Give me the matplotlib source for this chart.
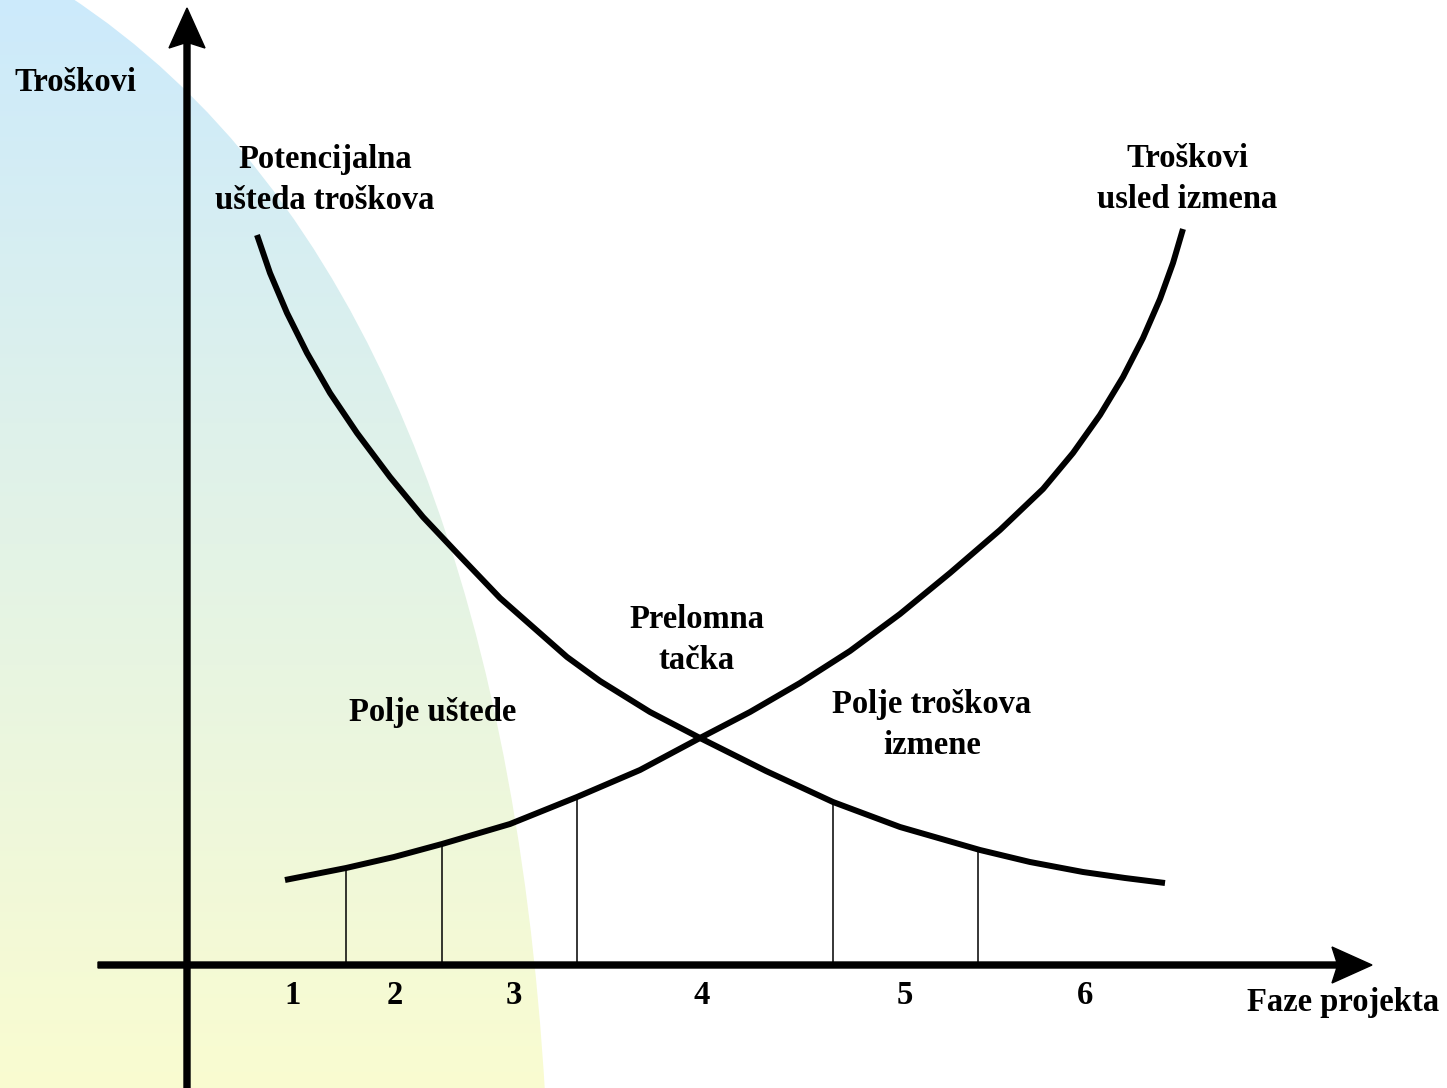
import numpy as np
import matplotlib
matplotlib.use("Agg")
import matplotlib.pyplot as plt
from matplotlib.path import Path
from matplotlib.patches import PathPatch

#units: origin where the two axes cross, 1 unit = 100 px
#curve "potencijalna usteda troskova" (falling)
save_x = [0.70, 0.83, 1.00, 1.20, 1.43, 1.70, 2.03, 2.36, 2.70, 3.13, 3.80, 4.13, 4.63, 5.13,
          5.79, 6.46, 7.13, 7.93, 8.43, 8.96, 9.38, 9.78]
save_y = [7.30, 6.92, 6.52, 6.12, 5.72, 5.32, 4.88, 4.48, 4.12, 3.67, 3.08, 2.84, 2.53, 2.27,
          1.94, 1.63, 1.38, 1.15, 1.03, 0.93, 0.87, 0.82]

#curve "troskovi usled izmena" (rising)
chg_x = [0.98, 1.59, 2.07, 2.55, 3.23, 3.90, 4.53, 5.13, 5.63, 6.13, 6.63, 7.13, 7.63, 8.13,
         8.56, 8.86, 9.13, 9.36, 9.56, 9.73, 9.86, 9.96]
chg_y = [0.85, 0.97, 1.08, 1.21, 1.41, 1.68, 1.95, 2.27, 2.53, 2.82, 3.14, 3.51, 3.92, 4.35,
         4.76, 5.12, 5.50, 5.88, 6.27, 6.66, 7.02, 7.36]

#phase borders (x) and height where they meet the curve
border_x = [1.59, 2.55, 3.90, 6.46, 7.91]
border_top = [0.97, 1.21, 1.68, 1.63, 1.16]

#phase labels
phases = ["1", "2", "3", "4", "5", "6"]
phase_x = [1.06, 2.08, 3.27, 5.15, 7.18, 8.98]

xmin, xmax = -1.87, 12.60
ymin, ymax = -1.23, 9.65

fig = plt.figure(figsize=(14.47, 10.88), dpi=100)
ax = fig.add_axes([0, 0, 1, 1])
ax.set_xlim(xmin, xmax)
ax.set_ylim(ymin, ymax)
ax.axis("off")

#background gradient (blue at top -> yellow at bottom), clipped by a curved edge
top = np.array([204, 234, 252]) / 255.0
bot = np.array([250, 252, 208]) / 255.0
t = np.linspace(0, 1, 256)[:, None]
grad = (top * (1 - t) + bot * t)[:, None, :]
img = ax.imshow(grad, extent=(xmin - 0.1, 4.0, ymin - 0.1, ymax + 0.1), aspect="auto", zorder=0)
verts = [(-1.20, ymax + 0.05), (1.78, 7.76), (3.28, 3.77), (3.58, ymin - 0.05),
         (xmin - 0.1, ymin - 0.1), (xmin - 0.1, ymax + 0.1), (-1.20, ymax + 0.05)]
codes = [Path.MOVETO, Path.CURVE4, Path.CURVE4, Path.CURVE4, Path.LINETO, Path.LINETO, Path.CLOSEPOLY]
clip = PathPatch(Path(verts, codes), facecolor="none", edgecolor="none", transform=ax.transData)
ax.add_patch(clip)
img.set_clip_path(clip)

#axes with arrows
ax.arrow(0, ymin, 0, 9.57 - ymin, width=0.06, head_width=0.36, head_length=0.40,
         length_includes_head=True, overhang=0.12, color="black", zorder=3)
ax.arrow(-0.89, 0, 11.85 + 0.89, 0, width=0.06, head_width=0.36, head_length=0.40,
         length_includes_head=True, overhang=0.12, color="black", zorder=3)

#curves
ax.plot(save_x, save_y, color="black", lw=4.3, solid_capstyle="butt", solid_joinstyle="round", zorder=4)
ax.plot(chg_x, chg_y, color="black", lw=4.3, solid_capstyle="butt", solid_joinstyle="round", zorder=4)

#phase borders
ax.vlines(border_x, 0, border_top, color="black", lw=1.1, zorder=2)

font = dict(family="Liberation Serif", fontweight="bold", fontsize=23.5, color="black")

for lab, x in zip(phases, phase_x):
    ax.text(x, -0.30, lab, ha="center", va="center", **font)

ax.text(-1.73, 8.83, "Troškovi", ha="left", va="center", **font)
ax.text(10.60, -0.37, "Faze projekta", ha="left", va="center", **font)
ax.text(1.38, 7.85, "Potencijalna\nušteda troškova", ha="center", va="center", linespacing=1.38, **font)
ax.text(10.00, 7.86, "Troškovi\nusled izmena", ha="center", va="center", linespacing=1.38, **font)
ax.text(5.10, 3.25, "Prelomna\ntačka", ha="center", va="center", linespacing=1.38, **font)
ax.text(2.46, 2.53, "Polje uštede", ha="center", va="center", **font)
ax.text(7.45, 2.40, "Polje troškova\nizmene", ha="center", va="center", linespacing=1.38, **font)

fig.savefig("out.png", dpi=100)
